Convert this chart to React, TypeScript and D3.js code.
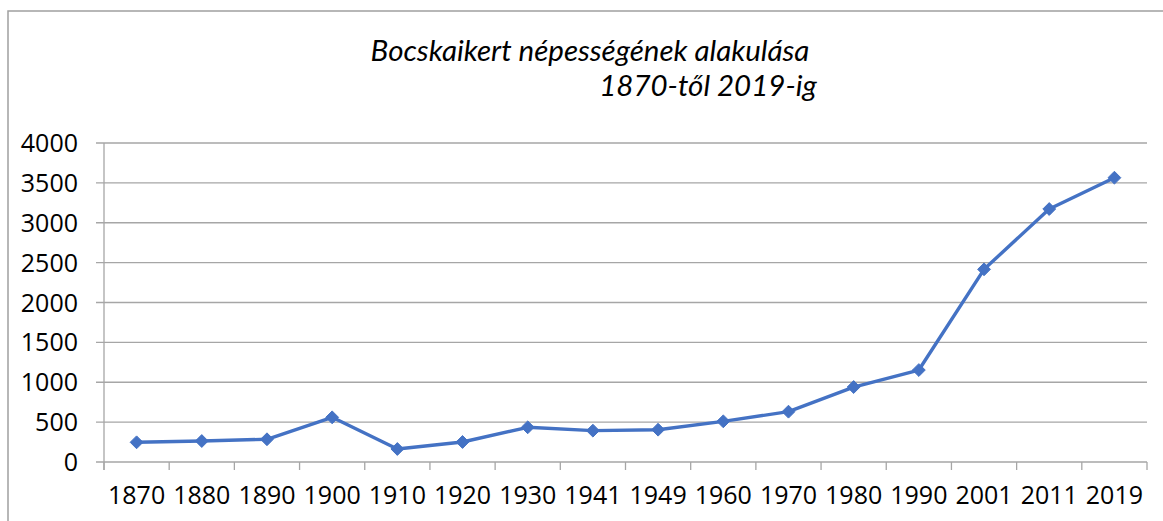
import * as d3 from "d3";

const years = ["1870", "1880", "1890", "1900", "1910", "1920", "1930", "1941", "1949", "1960", "1970", "1980", "1990", "2001", "2011", "2019"];
const population = [247, 263, 285, 560, 163, 251, 435, 393, 405, 510, 631, 940, 1153, 2416, 3172, 3565];
const yTicks = [0, 500, 1000, 1500, 2000, 2500, 3000, 3500, 4000];
const titleLines = ["Bocskaikert népességének alakulása", "1870-től 2019-ig"];

const WIDTH = 1163;
const HEIGHT = 521;
const MARGIN = { top: 143, right: 16, bottom: 59, left: 104 };

const TICK_FONT = "'Segoe UI', 'Open Sans', sans-serif";
const TITLE_FONT = "Lato, sans-serif";

export default function App() {
  const boundsWidth = WIDTH - MARGIN.left - MARGIN.right;
  const boundsHeight = HEIGHT - MARGIN.top - MARGIN.bottom;

  const xScale = d3.scaleBand().domain(years).range([0, boundsWidth]).padding(0);
  const yScale = d3.scaleLinear().domain([0, 4000]).range([boundsHeight, 0]);
  const xMid = (y: string) => (xScale(y) ?? 0) + xScale.bandwidth() / 2;

  const line = d3
    .line<number>()
    .x((_, i) => xMid(years[i]))
    .y((d) => yScale(d));

  const diamond = d3.symbol(d3.symbolDiamond2, 105)();

  const tickXs = years.map((y) => xScale(y) ?? 0).concat([boundsWidth]);

  return (
    <svg
      width={WIDTH}
      height={HEIGHT}
      style={{ position: "absolute", left: 0, top: 0, background: "white" }}
    >
      {/* chart frame, runs past right and bottom edge */}
      <rect x={8} y={11} width={WIDTH + 10} height={HEIGHT + 10} fill="white" stroke="#a0a0a0" strokeWidth={1.5} />

      <text x={590} y={61} textAnchor="middle" fontFamily={TITLE_FONT} fontStyle="italic" fontSize={29.5} fill="#000">
        {titleLines[0]}
      </text>
      <text x={708} y={96} textAnchor="middle" fontFamily={TITLE_FONT} fontStyle="italic" fontSize={29.5} fill="#000">
        {titleLines[1]}
      </text>

      <g transform={`translate(${MARGIN.left},${MARGIN.top})`}>
        {yTicks.map((t) => (
          <g key={t}>
            <line x1={-8} x2={boundsWidth} y1={yScale(t)} y2={yScale(t)} stroke="#a6a6a6" strokeWidth={1.3} />
            <text
              x={-26}
              y={yScale(t)}
              dy="0.36em"
              textAnchor="end"
              fontFamily={TICK_FONT}
              fontSize={25}
              fill="#000"
            >
              {t}
            </text>
          </g>
        ))}
        <line x1={0} x2={0} y1={0} y2={boundsHeight + 8} stroke="#a6a6a6" strokeWidth={1.3} />
        {tickXs.map((x, i) => (
          <line key={i} x1={x} x2={x} y1={boundsHeight} y2={boundsHeight + 8} stroke="#a6a6a6" strokeWidth={1.3} />
        ))}
        {years.map((y) => (
          <text
            key={y}
            x={xMid(y)}
            y={boundsHeight + 42}
            textAnchor="middle"
            fontFamily={TICK_FONT}
            fontSize={25}
            fill="#000"
          >
            {y}
          </text>
        ))}

        <path d={line(population) ?? ""} fill="none" stroke="#4472C4" strokeWidth={3.4} strokeLinejoin="round" />
        {population.map((v, i) => (
          <path
            key={i}
            d={diamond ?? ""}
            transform={`translate(${xMid(years[i])},${yScale(v)})`}
            fill="#4472C4"
            stroke="#4472C4"
            strokeWidth={1}
          />
        ))}
      </g>
    </svg>
  );
}
